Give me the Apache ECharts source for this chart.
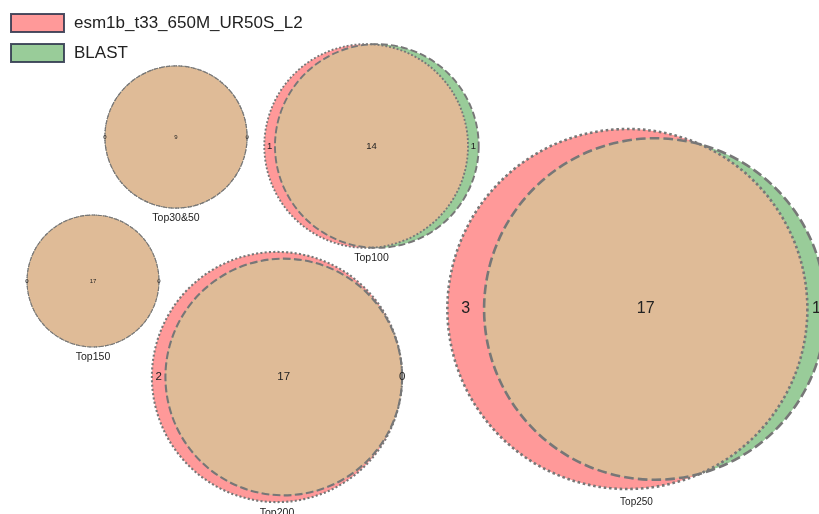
<!DOCTYPE html>
<html>
<head>
<meta charset="utf-8">
<script src="https://cdn.jsdelivr.net/npm/echarts@6/dist/echarts.min.js"></script>
<style>
  html, body { margin: 0; padding: 0; background: #fff; }
  #chart { width: 819px; height: 514px; }
</style>
</head>
<body>
<div id="chart"></div>
<script>
// Two sets compared at several cut-offs
const setNames = ['esm1b_t33_650M_UR50S_L2', 'BLAST'];
const groupNames = ['Top30&50', 'Top100', 'Top150', 'Top200', 'Top250'];
const onlyFirst = [0, 1, 0, 2, 3];
const shared = [9, 14, 17, 17, 17];
const onlySecond = [0, 1, 0, 0, 1];

// Where each diagram sits (axis units = px) and how large it is drawn
const layoutCx = [176, 371.5, 93, 277, 636.5];
const layoutCy = [137, 146, 281, 377, 309];
const layoutScale = [23.7, 26.3, 16.0, 28.7, 40.25];   // px per unit radius (radius = sqrt(count))
const countFont = [6, 9.5, 6, 11.5, 16];
const titleFont = [10.5, 10.5, 10.5, 10.5, 10];
const outlineWidth = [1.2, 1.9, 1.1, 2.1, 2.6];
const titleGap = [10, 10, 10, 11, 13];

const COLOR_A = '#ff9999';
const COLOR_B = '#99cc99';
const COLOR_AB = '#dfbb97';
const OUTLINE = '#777777';
const FONT = '"Liberation Sans", Arial, sans-serif';

// Area of the lens shared by two circles of radii r1, r2 at distance d
function lensArea(d, r1, r2) {
  if (d >= r1 + r2) return 0;
  if (d <= Math.abs(r1 - r2)) return Math.PI * Math.min(r1, r2) ** 2;
  const a1 = r1 * r1 * Math.acos((d * d + r1 * r1 - r2 * r2) / (2 * d * r1));
  const a2 = r2 * r2 * Math.acos((d * d + r2 * r2 - r1 * r1) / (2 * d * r2));
  const a3 = 0.5 * Math.sqrt((-d + r1 + r2) * (d + r1 - r2) * (d - r1 + r2) * (d + r1 + r2));
  return a1 + a2 - a3;
}

// Centre distance giving the requested overlap area
function solveDistance(r1, r2, target) {
  let lo = Math.abs(r1 - r2), hi = r1 + r2;
  if (target >= lensArea(lo, r1, r2) - 1e-9) return lo;
  for (let i = 0; i < 80; i++) {
    const mid = (lo + hi) / 2;
    if (lensArea(mid, r1, r2) > target) lo = mid; else hi = mid;
  }
  return (lo + hi) / 2;
}

const vennData = groupNames.map((g, i) => [i, onlyFirst[i], shared[i], onlySecond[i]]);

function renderVenn(params, api) {
  const idx = api.value(0);
  const nA = api.value(1) + api.value(2);
  const nB = api.value(2) + api.value(3);
  const nAB = api.value(2);
  const rA = Math.sqrt(nA), rB = Math.sqrt(nB);
  const d = solveDistance(rA, rB, Math.PI * nAB);

  const unit = api.size([layoutScale[idx], 0])[0];
  const c = api.coord([layoutCx[idx], layoutCy[idx]]);
  const RA = rA * unit, RB = rB * unit, D = d * unit;
  const cy = c[1];
  const ax = c[0] + (RA - RB - D) / 2;
  const bx = ax + D;

  // shared region
  let lensEl;
  if (D <= Math.abs(RA - RB) + 1e-6) {
    const small = RA <= RB ? { x: ax, r: RA } : { x: bx, r: RB };
    lensEl = { type: 'circle', shape: { cx: small.x, cy: cy, r: small.r }, style: { fill: COLOR_AB } };
  } else {
    const xo = (D * D + RA * RA - RB * RB) / (2 * D);
    const xi = ax + xo;
    const h = Math.sqrt(Math.max(RA * RA - xo * xo, 0));
    const pts = [];
    const steps = 240;
    const t1 = Math.atan2(h, xi - bx);
    const t2 = Math.atan2(-h, xi - bx) + 2 * Math.PI;
    for (let s = 0; s <= steps; s++) {
      const t = t1 + (t2 - t1) * s / steps;
      pts.push([bx + RB * Math.cos(t), cy + RB * Math.sin(t)]);
    }
    const p1 = Math.atan2(-h, xi - ax);
    const p2 = Math.atan2(h, xi - ax);
    for (let s = 0; s <= steps; s++) {
      const t = p1 + (p2 - p1) * s / steps;
      pts.push([ax + RA * Math.cos(t), cy + RA * Math.sin(t)]);
    }
    lensEl = { type: 'polygon', shape: { points: pts }, style: { fill: COLOR_AB } };
  }

  const lw = outlineWidth[idx];
  const fs = countFont[idx];
  const labelStyle = (txt, x) => ({
    type: 'text',
    style: {
      text: String(txt), x: x, y: cy, align: 'center', verticalAlign: 'middle',
      fontSize: fs, fontFamily: FONT, fill: '#222'
    }
  });

  const leftX = ((ax - RA) + (bx - RB)) / 2;
  const rightX = ((ax + RA) + (bx + RB)) / 2;
  const midX = ((bx - RB) + (ax + RA)) / 2;
  const bottom = cy + Math.max(RA, RB);

  return {
    type: 'group',
    children: [
      { type: 'circle', shape: { cx: ax, cy: cy, r: RA }, style: { fill: COLOR_A } },
      { type: 'circle', shape: { cx: bx, cy: cy, r: RB }, style: { fill: COLOR_B } },
      lensEl,
      { type: 'circle', shape: { cx: ax, cy: cy, r: RA },
        style: { fill: 'none', stroke: OUTLINE, lineWidth: lw, lineDash: [lw, lw * 1.05] } },
      { type: 'circle', shape: { cx: bx, cy: cy, r: RB },
        style: { fill: 'none', stroke: OUTLINE, lineWidth: lw, lineDash: [lw * 3.7, lw * 1.6] } },
      labelStyle(api.value(1), leftX),
      labelStyle(api.value(2), midX),
      labelStyle(api.value(3), rightX),
      {
        type: 'text',
        style: {
          text: groupNames[idx], x: c[0], y: bottom + titleGap[idx],
          align: 'center', verticalAlign: 'middle',
          fontSize: titleFont[idx], fontFamily: FONT, fill: '#222'
        }
      }
    ]
  };
}

const chart = echarts.init(document.getElementById('chart'), null, { renderer: 'canvas' });
chart.setOption({
  backgroundColor: '#ffffff',
  animation: false,
  grid: { left: 0, right: 0, top: 0, bottom: 0 },
  xAxis: { type: 'value', min: 0, max: 819, show: false },
  yAxis: { type: 'value', min: 0, max: 514, inverse: true, show: false },
  legend: {
    data: setNames,
    orient: 'vertical',
    left: 10,
    top: 13,
    padding: 0,
    itemWidth: 53,
    itemHeight: 18,
    itemGap: 10,
    icon: 'rect',
    selectedMode: false,
    textStyle: { fontSize: 17, fontFamily: FONT, color: '#222', padding: [0, 0, 0, 5] }
  },
  series: [
    { name: setNames[0], type: 'scatter', data: [],
      itemStyle: { color: COLOR_A, opacity: 1, borderColor: 'rgba(45,52,75,0.85)', borderWidth: 1 } },
    { name: setNames[1], type: 'scatter', data: [],
      itemStyle: { color: COLOR_B, opacity: 1, borderColor: 'rgba(45,52,75,0.85)', borderWidth: 1 } },
    {
      type: 'custom',
      coordinateSystem: 'cartesian2d',
      renderItem: renderVenn,
      data: vennData,
      silent: true,
      clip: false
    }
  ]
});
</script>
</body>
</html>
